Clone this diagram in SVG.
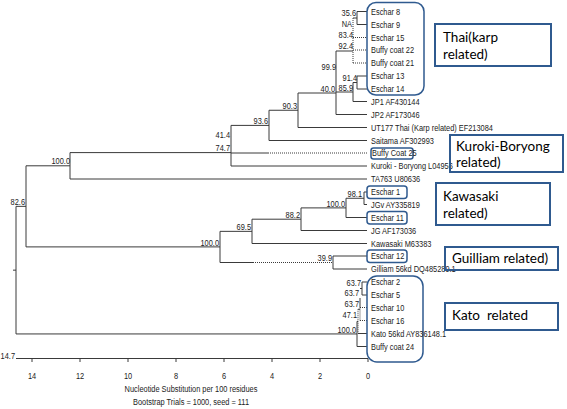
<svg xmlns="http://www.w3.org/2000/svg" width="567" height="409" viewBox="0 0 567 409">
<style>
.t{font-family:"Liberation Sans",Arial,sans-serif;font-size:9.5px;fill:#222}
.e{text-anchor:end}
.m{text-anchor:middle}
.ln{stroke:#3a3a3a;stroke-width:1;fill:none}
.dt{stroke:#3a3a3a;stroke-width:1;fill:none;stroke-dasharray:1 1}
.bx{fill:none;stroke:#2f5a8f;stroke-width:1.5}
.lb{fill:none;stroke:#2f5a8f;stroke-width:2}
.lt{font-family:Lato,"Open Sans",sans-serif;font-size:13.5px;fill:#000;white-space:pre}
</style>
<rect width="567" height="409" fill="#fff"/>
<g id="connectors">
<path class="ln" d="M357 11.5V24.5M357 11.5H367M357 24.5H367M353 18H357M336 51H353M357 76V89M357 76H367M357 89H367M353 82.5H357M353 82.5V101.5M353 101.5H367M336 92H353M336 51V114.5M336 114.5H367M298 93H336M298 93V127.5M298 127.5H367M269 110.25H298M269 110.25V140.5M269 140.5H367M231 125.4H269M231 125.4V166M231 153H268M231 166H367M70 152.6H231M70 152.6V179M70 179H367M26 165.8H70M26 165.8V246.9M16 206.35H26M26 246.9H220M220 231.35V262.5M220 231.35H252M220 262.5H253M252 219.2V243.5M252 243.5H367M252 219.2H301M301 207.9V230.5M301 230.5H367M301 207.9H346M346 198.25V217.5M346 217.5H367M346 198.25H364M364 192V204.5M364 192H367M364 204.5H367M333 256V269M333 256H367M333 269H367M16 206.35V333.95M13 270.15H16M16 333.95H357M357 321.4V346.5M357 346.5H367M357 321.4H358M358 333.5H367M358 309.25H360M360 298V307.5M360 288.5H362M362 282V295M362 282H367M362 295H367"/>
<path class="dt" d="M353 18V63M353 37.5H367M353 50H367M353 63H367M268 153H367M253 262.5H333M358 309.25V333.5M360 307.5V320.5M360 307.5H367M360 320.5H367"/>
</g>
<g id="axis">
<path class="ln" d="M16 358.5H368M32 358.5V362M80 358.5V362M128 358.5V362M176 358.5V362M224 358.5V362M272 358.5V362M320 358.5V362M368 358.5V362"/>
<text class="t e" transform="translate(15,359) scale(0.78,1)">14.7</text>
<text class="t m" transform="translate(32,379) scale(0.78,1)">14</text>
<text class="t m" transform="translate(80,379) scale(0.78,1)">12</text>
<text class="t m" transform="translate(128,379) scale(0.78,1)">10</text>
<text class="t m" transform="translate(176,379) scale(0.78,1)">8</text>
<text class="t m" transform="translate(224,379) scale(0.78,1)">6</text>
<text class="t m" transform="translate(272,379) scale(0.78,1)">4</text>
<text class="t m" transform="translate(320,379) scale(0.78,1)">2</text>
<text class="t m" transform="translate(368,379) scale(0.78,1)">0</text>
<text class="t m" transform="translate(191,392) scale(0.78,1)">Nucleotide Substitution per 100 residues</text>
<text class="t m" transform="translate(191,404.5) scale(0.78,1)">Bootstrap Trials = 1000, seed = 111</text>
</g>
<g id="bootstrap">
<text class="t e" transform="translate(356,16) scale(0.78,1)">35.6</text>
<text class="t e" transform="translate(352,27) scale(0.78,1)">NA</text>
<text class="t e" transform="translate(353,37.5) scale(0.78,1)">83.4</text>
<text class="t e" transform="translate(353,49) scale(0.78,1)">92.4</text>
<text class="t e" transform="translate(336,70) scale(0.78,1)">99.9</text>
<text class="t e" transform="translate(357,80.5) scale(0.78,1)">91.4</text>
<text class="t e" transform="translate(335,91.5) scale(0.78,1)">40.0</text>
<text class="t e" transform="translate(353,90.5) scale(0.78,1)">85.9</text>
<text class="t e" transform="translate(297,108.5) scale(0.78,1)">90.3</text>
<text class="t e" transform="translate(268,123.5) scale(0.78,1)">93.6</text>
<text class="t e" transform="translate(230,137.5) scale(0.78,1)">41.4</text>
<text class="t e" transform="translate(230,151) scale(0.78,1)">74.7</text>
<text class="t e" transform="translate(70,164) scale(0.78,1)">100.0</text>
<text class="t e" transform="translate(25,205) scale(0.78,1)">82.6</text>
<text class="t e" transform="translate(362,197) scale(0.78,1)">98.1</text>
<text class="t e" transform="translate(345,206.5) scale(0.78,1)">100.0</text>
<text class="t e" transform="translate(300,218) scale(0.78,1)">88.2</text>
<text class="t e" transform="translate(251,230) scale(0.78,1)">69.5</text>
<text class="t e" transform="translate(219,245.5) scale(0.78,1)">100.0</text>
<text class="t e" transform="translate(332,261) scale(0.78,1)">39.9</text>
<text class="t e" transform="translate(361,286) scale(0.78,1)">63.7</text>
<text class="t e" transform="translate(359,296) scale(0.78,1)">63.7</text>
<text class="t e" transform="translate(359,307) scale(0.78,1)">63.7</text>
<text class="t e" transform="translate(357,318) scale(0.78,1)">47.1</text>
<text class="t e" transform="translate(356,332.5) scale(0.78,1)">100.0</text>
</g>
<g id="group-boxes">
<rect class="bx" x="367" y="2.5" width="57" height="92.5" rx="9"/>
<rect class="bx" x="371" y="148" width="42" height="11" rx="2.5"/>
<rect class="bx" x="367" y="186" width="40" height="12.5" rx="3"/>
<rect class="bx" x="367" y="211.5" width="40" height="12.5" rx="3"/>
<rect class="bx" x="367" y="250" width="40" height="12.5" rx="3"/>
<rect class="bx" x="367" y="276" width="56" height="86" rx="10"/>
</g>
<g id="leaves">
<g id="leaf-eschar8"><text class="t" transform="translate(371,14.5) scale(0.78,1)">Eschar 8</text></g>
<g id="leaf-eschar9"><text class="t" transform="translate(371,27.5) scale(0.78,1)">Eschar 9</text></g>
<g id="leaf-eschar15"><text class="t" transform="translate(371,40.5) scale(0.78,1)">Eschar 15</text></g>
<g id="leaf-buffy22"><text class="t" transform="translate(371,53) scale(0.78,1)">Buffy coat 22</text></g>
<g id="leaf-buffy21"><text class="t" transform="translate(371,66) scale(0.78,1)">Buffy coat 21</text></g>
<g id="leaf-eschar13"><text class="t" transform="translate(371,79) scale(0.78,1)">Eschar 13</text></g>
<g id="leaf-eschar14"><text class="t" transform="translate(371,92) scale(0.78,1)">Eschar 14</text></g>
<g id="leaf-jp1"><text class="t" transform="translate(371,104.5) scale(0.78,1)">JP1 AF430144</text></g>
<g id="leaf-jp2"><text class="t" transform="translate(371,117.5) scale(0.78,1)">JP2 AF173046</text></g>
<g id="leaf-ut177"><text class="t" transform="translate(371,130.5) scale(0.78,1)">UT177 Thai (Karp related) EF213084</text></g>
<g id="leaf-saitama"><text class="t" transform="translate(371,143.5) scale(0.78,1)">Saitama AF302993</text></g>
<g id="leaf-buffy25"><text class="t" transform="translate(372,156) scale(0.78,1)">Buffy Coat 25</text></g>
<g id="leaf-kuroki"><text class="t" transform="translate(371,169) scale(0.78,1)">Kuroki - Boryong L04956</text></g>
<g id="leaf-ta763"><text class="t" transform="translate(371,182) scale(0.78,1)">TA763 U80636</text></g>
<g id="leaf-eschar1"><text class="t" transform="translate(371,195) scale(0.78,1)">Eschar 1</text></g>
<g id="leaf-jgv"><text class="t" transform="translate(371,207.5) scale(0.78,1)">JGv AY335819</text></g>
<g id="leaf-eschar11"><text class="t" transform="translate(371,220.5) scale(0.78,1)">Eschar 11</text></g>
<g id="leaf-jg"><text class="t" transform="translate(371,233.5) scale(0.78,1)">JG AF173036</text></g>
<g id="leaf-kawasaki"><text class="t" transform="translate(371,246.5) scale(0.78,1)">Kawasaki M63383</text></g>
<g id="leaf-eschar12"><text class="t" transform="translate(371,259) scale(0.78,1)">Eschar 12</text></g>
<g id="leaf-gilliam"><text class="t" transform="translate(371,272) scale(0.78,1)">Gilliam 56kd DQ485289.1</text></g>
<g id="leaf-eschar2"><text class="t" transform="translate(371,285) scale(0.78,1)">Eschar 2</text></g>
<g id="leaf-eschar5"><text class="t" transform="translate(371,298) scale(0.78,1)">Eschar 5</text></g>
<g id="leaf-eschar10"><text class="t" transform="translate(371,310.5) scale(0.78,1)">Eschar 10</text></g>
<g id="leaf-eschar16"><text class="t" transform="translate(371,323.5) scale(0.78,1)">Eschar 16</text></g>
<g id="leaf-kato"><text class="t" transform="translate(371,336.5) scale(0.78,1)">Kato 56kd AY836148.1</text></g>
<g id="leaf-buffy24"><text class="t" transform="translate(371,349.5) scale(0.78,1)">Buffy coat 24</text></g>
</g>
<g id="label-thai"><rect class="lb" x="435" y="24" width="116" height="42"/><text class="lt" x="443" y="42">Thai(karp</text><text class="lt" x="443" y="59">related)</text></g>
<g id="label-kuroki"><rect class="lb" x="450" y="135" width="113" height="37"/><text class="lt" x="456" y="151">Kuroki-Boryong</text><text class="lt" x="456" y="167">related)</text></g>
<g id="label-kawasaki"><rect class="lb" x="436" y="183" width="114" height="42"/><text class="lt" x="443" y="201">Kawasaki</text><text class="lt" x="443" y="218">related)</text></g>
<g id="label-guilliam"><rect class="lb" x="445" y="247" width="113" height="23"/><text class="lt" x="452" y="263">Guilliam related)</text></g>
<g id="label-kato"><rect class="lb" x="445" y="303" width="113" height="27"/><text class="lt" x="452" y="320">Kato  related</text></g>
</svg>
